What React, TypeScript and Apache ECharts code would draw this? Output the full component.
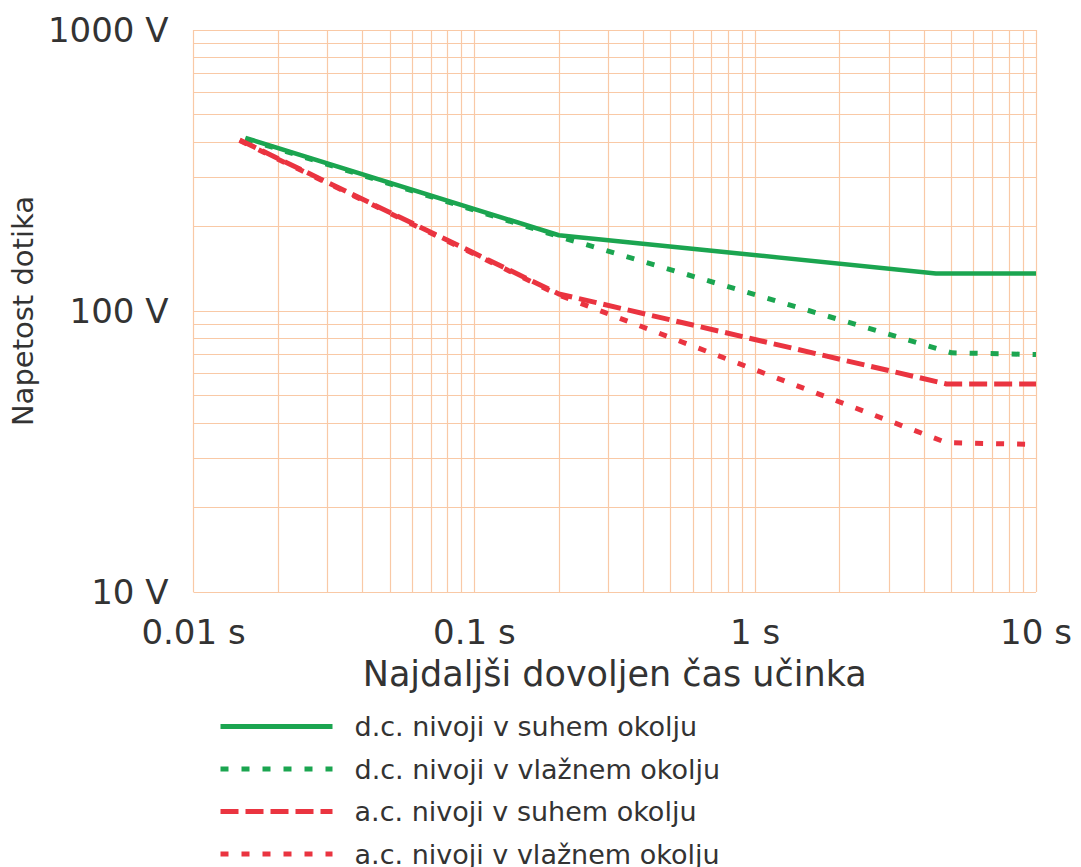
import React, { useEffect, useRef } from "react";
import * as echarts from "echarts";

// Time (s) and voltage (V) points
const tDcDry = [0.0153, 0.2, 4.4, 10];
const vDcDry = [413, 186, 136, 136];
const tDcWet = [0.0153, 0.2, 5, 10];
const vDcWet = [410, 184, 71, 70];
const tAcDry = [0.0146, 0.2, 4.8, 10];
const vAcDry = [406, 115, 55, 55];
const tAcWet = [0.0146, 0.2, 4.8, 10];
const vAcWet = [404, 114, 34, 33.5];

const seriesNames = [
  "d.c. nivoji v suhem okolju",
  "d.c. nivoji v vlažnem okolju",
  "a.c. nivoji v suhem okolju",
  "a.c. nivoji v vlažnem okolju",
];

const xTickLabels = ["0.01 s", "0.1 s", "1 s", "10 s"];
const yTickLabels = ["10 V", "100 V", "1000 V"];

// minor grid positions
const xMinor = [
  0.02, 0.03, 0.04, 0.05, 0.06, 0.07, 0.08, 0.09,
  0.2, 0.3, 0.4, 0.5, 0.6, 0.7, 0.8, 0.9,
  2, 3, 4, 5, 6, 7, 8, 9,
];
const yMinor = [
  20, 30, 40, 50, 60, 70, 80, 90,
  200, 300, 400, 500, 600, 700, 800, 900,
];

const GREEN = "#1ba550";
const RED = "#ea3440";
const GRID = "#f9c9a6";
const FONT = "DejaVu Sans";

function pairs(t: number[], v: number[]) {
  return t.map((x, i) => [x, v[i]]);
}

export default function App() {
  const ref = useRef<HTMLDivElement>(null);
  useEffect(() => {
    if (!ref.current) return;
    const chart = echarts.init(ref.current, undefined, { renderer: "svg" });
    const gridMarks = [
      ...xMinor.map((x) => ({ xAxis: x })),
      ...yMinor.map((y) => ({ yAxis: y })),
    ];
    chart.setOption({
      animation: false,
      backgroundColor: "#ffffff",
      grid: { left: 193, right: 45, top: 30, bottom: 275, containLabel: false },
      xAxis: {
        type: "log",
        logBase: 10,
        min: 0.01,
        max: 10,
        name: "Najdaljši dovoljen čas učinka",
        nameLocation: "middle",
        nameGap: 64,
        nameTextStyle: { fontFamily: FONT, fontSize: 35, color: "#333333" },
        axisLine: { show: false },
        axisTick: { show: false },
        axisLabel: {
          fontFamily: FONT,
          fontSize: 34,
          color: "#333333",
          margin: 23,
          formatter: (_v: number, i: number) => xTickLabels[i] ?? "",
        },
        splitLine: { show: true, lineStyle: { color: GRID, width: 1.2 } },
      },
      yAxis: {
        type: "log",
        logBase: 10,
        min: 10,
        max: 1000,
        name: "Napetost dotika",
        nameLocation: "middle",
        nameGap: 148,
        nameRotate: 90,
        nameTextStyle: { fontFamily: FONT, fontSize: 29, color: "#333333" },
        axisLine: { show: false },
        axisTick: { show: false },
        axisLabel: {
          fontFamily: FONT,
          fontSize: 34,
          color: "#333333",
          margin: 25,
          formatter: (_v: number, i: number) => yTickLabels[i] ?? "",
        },
        splitLine: { show: true, lineStyle: { color: GRID, width: 1.2 } },
      },
      legend: {
        orient: "vertical",
        left: 218,
        top: 713,
        height: 200,
        padding: 0,
        itemWidth: 112,
        itemHeight: 14,
        itemGap: 15.5,
        data: seriesNames,
        itemStyle: { opacity: 0 },
        lineStyle: { width: 5 },
        textStyle: {
          fontFamily: FONT,
          fontSize: 27,
          lineHeight: 27,
          color: "#333333",
          padding: [0, 0, 0, 17],
        },
      },
      series: [
        {
          name: "grid",
          type: "line",
          data: [],
          silent: true,
          markLine: {
            silent: true,
            z: 1,
            symbol: "none",
            label: { show: false },
            lineStyle: { color: GRID, width: 1.2, type: "solid" },
            emphasis: { disabled: true },
            data: gridMarks,
          },
        },
        {
          name: seriesNames[0],
          type: "line",
          z: 4,
          symbol: "none",
          color: GREEN,
          lineStyle: { color: GREEN, width: 4.5, type: "solid" },
          data: pairs(tDcDry, vDcDry),
        },
        {
          name: seriesNames[1],
          type: "line",
          z: 3,
          symbol: "none",
          color: GREEN,
          lineStyle: { color: GREEN, width: 5, type: [8, 13] },
          data: pairs(tDcWet, vDcWet),
        },
        {
          name: seriesNames[2],
          type: "line",
          z: 4,
          symbol: "none",
          color: RED,
          lineStyle: { color: RED, width: 5, type: [18, 7] },
          data: pairs(tAcDry, vAcDry),
        },
        {
          name: seriesNames[3],
          type: "line",
          z: 3,
          symbol: "none",
          color: RED,
          lineStyle: { color: RED, width: 5, type: [8, 13] },
          data: pairs(tAcWet, vAcWet),
        },
      ],
    });
    return () => chart.dispose();
  }, []);
  return (
    <div
      ref={ref}
      style={{ position: "fixed", left: 0, top: 0, width: 1081, height: 867 }}
    />
  );
}
